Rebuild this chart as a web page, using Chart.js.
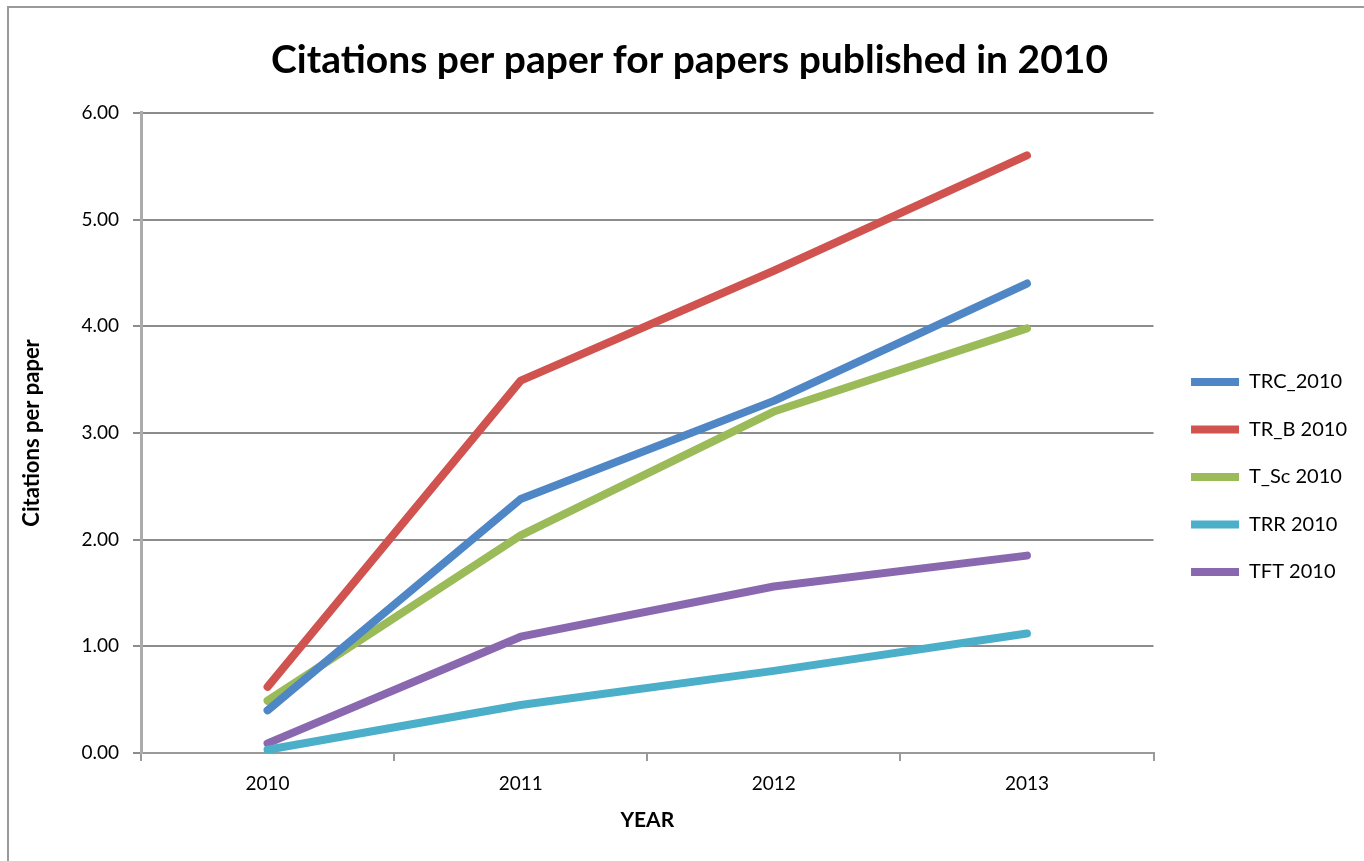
<!DOCTYPE html>
<html>
<head>
<meta charset="utf-8">
<title>Citations per paper</title>
<script src="https://cdn.jsdelivr.net/npm/chart.js@4/dist/chart.umd.min.js"></script>
<style>
  html, body { margin: 0; padding: 0; background: #fff; }
  #wrap { position: relative; width: 1364px; height: 861px; overflow: hidden; }
  #frame { position: absolute; left: 7px; top: 6px; width: 1370px; height: 870px;
           border: 2px solid #9a9a9a; box-sizing: border-box; pointer-events: none; }
  canvas { position: absolute; left: 0; top: 0; }
</style>
</head>
<body>
<div id="wrap">
  <canvas id="chart" width="1364" height="861"></canvas>
  <div id="frame"></div>
</div>
<script>
// Years on the x axis
const years = ['2010', '2011', '2012', '2013'];

// Citations per paper, one array per journal
const trc = [0.40, 2.38, 3.30, 4.40];
const trB = [0.62, 3.49, 4.52, 5.60];
const tSc = [0.49, 2.04, 3.20, 3.98];
const trr = [0.03, 0.45, 0.77, 1.12];
const tft = [0.09, 1.09, 1.56, 1.85];

const seriesNames = ['TRC_2010', 'TR_B 2010', 'T_Sc 2010', 'TRR 2010', 'TFT 2010'];
const seriesColors = ['#4f86c6', '#d0534f', '#9bbb59', '#4bafc9', '#8a68b0'];

const FONT = 'Lato, "Open Sans", sans-serif';
const PAD_LEFT = 10;

function makeDataset(i, values) {
    return {
        label: seriesNames[i],
        data: values,
        borderColor: seriesColors[i],
        backgroundColor: seriesColors[i],
        borderWidth: 8,
        borderCapStyle: 'round',
        borderJoinStyle: 'round',
        pointRadius: 0,
        pointHoverRadius: 0,
        pointStyle: 'line',
        tension: 0,
        fill: false
    };
}

// slide the title and the legend sideways after layout
const nudgeBoxes = {
    id: 'nudgeBoxes',
    afterLayout(chart) {
        const t = chart.titleBlock;
        if (t) { t.left += 11; t.right += 11; }
        const l = chart.legend;
        if (l) { l.left += 10; l.right += 10; }
    }
};

const ctx = document.getElementById('chart').getContext('2d');
new Chart(ctx, {
    type: 'line',
    data: {
        labels: years,
        datasets: [
            makeDataset(0, trc),
            makeDataset(1, trB),
            makeDataset(2, tSc),
            makeDataset(3, trr),
            makeDataset(4, tft)
        ]
    },
    plugins: [nudgeBoxes],
    options: {
        responsive: false,
        animation: false,
        layout: { padding: { left: PAD_LEFT, right: 17, top: 10, bottom: 28 } },
        plugins: {
            title: {
                display: true,
                text: 'Citations per paper for papers published in 2010',
                color: '#000',
                font: { family: FONT, size: 39, weight: 'bold' },
                padding: { top: 27, bottom: 29 }
            },
            legend: {
                position: 'right',
                // empty legend title pushes the entries down a bit
                title: {
                    display: true,
                    text: ' ',
                    font: { family: FONT, size: 10 },
                    padding: { top: 0, bottom: 99 }
                },
                labels: {
                    color: '#000',
                    font: { family: FONT, size: 20 },
                    usePointStyle: true,
                    pointStyleWidth: 48,
                    boxHeight: 8,
                    padding: 27.5
                }
            },
            tooltip: { enabled: false }
        },
        scales: {
            x: {
                offset: true,
                border: { color: '#9a9a9a', width: 2 },
                grid: {
                    offset: true,
                    drawOnChartArea: false,
                    drawTicks: true,
                    tickLength: 8,
                    color: '#9a9a9a',
                    lineWidth: 2
                },
                ticks: {
                    color: '#000',
                    font: { family: FONT, size: 19 },
                    padding: 11
                },
                title: {
                    display: true,
                    text: 'YEAR',
                    color: '#000',
                    font: { family: FONT, size: 21, weight: 'bold' },
                    padding: { top: 2, bottom: 0 }
                }
            },
            y: {
                min: 0,
                max: 6,
                border: { color: '#ababab', width: 3 },
                grid: {
                    color: '#8c8c8c',
                    lineWidth: 2,
                    drawTicks: true,
                    tickLength: 8
                },
                ticks: {
                    stepSize: 1,
                    color: '#000',
                    font: { family: FONT, size: 19 },
                    padding: 14,
                    callback: (v) => Number(v).toFixed(2)
                },
                title: {
                    display: true,
                    text: 'Citations per paper',
                    color: '#000',
                    font: { family: FONT, size: 22, weight: 'bold' },
                    padding: { top: 9, bottom: 0 }
                },
                // keep the plot's left edge fixed
                afterFit: (scale) => { scale.width = 141 - PAD_LEFT; }
            }
        }
    }
});
</script>
</body>
</html>
